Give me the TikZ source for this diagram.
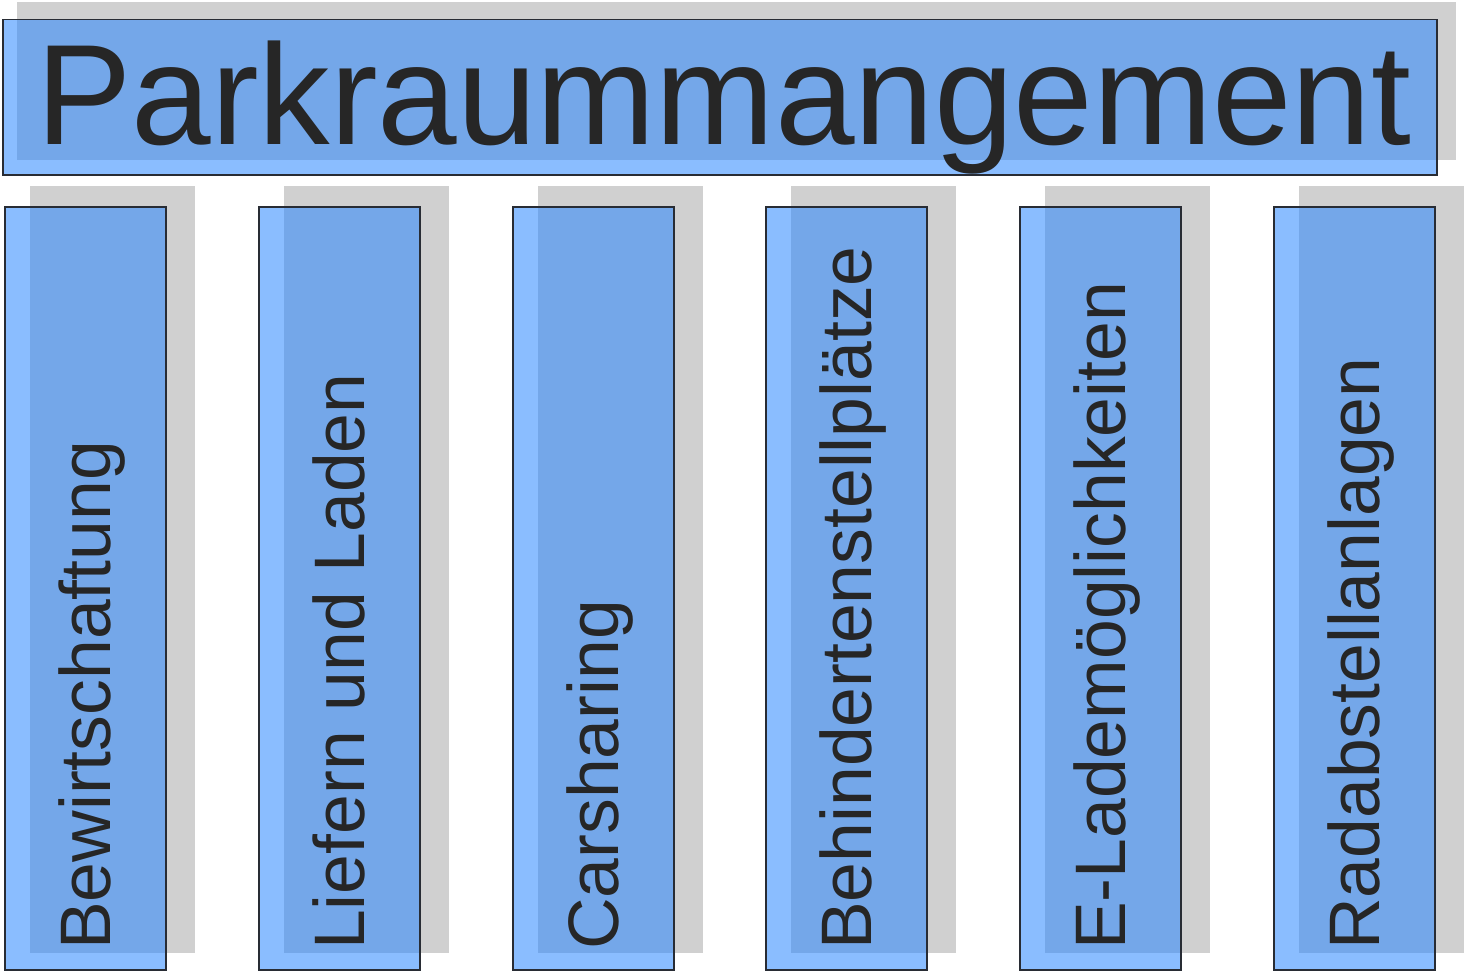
\documentclass[tikz,border=0pt]{standalone}
\usepackage{fontspec}
\setmainfont{Liberation Sans}
\definecolor{boxblue}{RGB}{42,135,255}
\definecolor{shadowgray}{RGB}{208,208,208}
\definecolor{txt}{RGB}{38,38,38}
\definecolor{edge}{RGB}{40,44,52}
\begin{document}
\begin{tikzpicture}[x=1pt,y=-1pt,
  shadowbox/.style={fill=shadowgray,draw=none},
  bluebox/.style={fill=boxblue,fill opacity=0.55,draw=edge,line width=1.5pt,inner sep=0pt},
  coltext/.style={text=txt,font=\fontsize{71.5}{72}\selectfont,rotate=90,anchor=base west,inner sep=0pt},
  titletext/.style={text=txt,font=\fontsize{143}{143}\selectfont,anchor=base west,inner sep=0pt}]
\useasboundingbox (0,0) rectangle (1467,971);
% title
\fill[shadowbox] (17,2) rectangle (1456,160);
\node[bluebox,anchor=north west,minimum width=1434pt,minimum height=155pt] (title) at (2,19) {};
\node[titletext] (titlet) at (36,145) {Parkraummangement};
% columns
\foreach \i/\x/\t in {1/4/Bewirtschaftung,2/258/Liefern und Laden,3/512/Carsharing,4/765/Behindertenstellplätze,5/1019/E-Lademöglichkeiten,6/1273/Radabstellanlagen}{
  \fill[shadowbox] (\x+26,186) rectangle (\x+191,953);
  \node[bluebox,anchor=north west,minimum width=161pt,minimum height=763pt] (c\i) at (\x,206) {};
  \node[coltext] (t\i) at (\x+106,950) {\t};
}
\end{tikzpicture}
\end{document}
